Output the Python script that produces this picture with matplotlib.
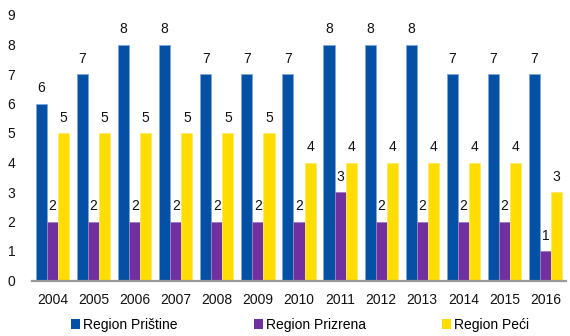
import matplotlib
matplotlib.use("Agg")
import matplotlib.pyplot as plt
from matplotlib.patches import Patch
import numpy as np

plt.rcParams['font.family'] = ['Liberation Sans', 'DejaVu Sans']

years = ['2004', '2005', '2006', '2007', '2008', '2009', '2010',
         '2011', '2012', '2013', '2014', '2015', '2016']
pristine = [6, 7, 8, 8, 7, 7, 7, 8, 8, 8, 7, 7, 7]
prizren = [2, 2, 2, 2, 2, 2, 2, 3, 2, 2, 2, 2, 1]
peci = [5, 5, 5, 5, 5, 5, 4, 4, 4, 4, 4, 4, 3]

series = [('Region Prištine', pristine, '#0450A4', '#7fa8d8'),
          ('Region Prizrena', prizren, '#7030A0', '#a07cc0'),
          ('Region Peći', peci, '#FFDD00', '#ffe866')]

fig = plt.figure(figsize=(5.7, 3.36), dpi=100)
ax = fig.add_axes([32 / 570, 55.5 / 336, 534 / 570, 265.5 / 336])

x = np.arange(len(years))
w = 0.27
for i, (name, vals, col, edge) in enumerate(series):
    pos = x + (i - 1) * w
    ax.bar(pos, vals, width=w, color=col, edgecolor=edge, linewidth=0.6)
    for px, v in zip(pos, vals):
        ax.annotate(str(v), (px, v), xytext=(0, 8), textcoords='offset points',
                    ha='center', va='baseline', fontsize=10, color='#111111')

ax.set_xlim(-0.5, 12.5)
ax.set_ylim(0, 9)
ax.set_yticks(range(10))
ax.set_xticks(x)
ax.set_xticklabels(years)
ax.tick_params(axis='both', length=0, labelsize=10, colors='#111111')
ax.tick_params(axis='y', pad=12)
ax.tick_params(axis='x', pad=9)
for s in ['top', 'right', 'left']:
    ax.spines[s].set_visible(False)
ax.spines['bottom'].set_color('#9a9a9a')
ax.spines['bottom'].set_linewidth(1.6)

handles = [Patch(facecolor=c, edgecolor='none') for _, _, c, _ in series]
fig.legend(handles, [s[0] for s in series], loc='center', ncol=3,
           bbox_to_anchor=(0.5 + 15 / 570, 11 / 336), frameon=False, fontsize=10,
           handlelength=0.65, handleheight=0.65, handletextpad=0.2,
           columnspacing=5.5, borderaxespad=0)

fig.savefig('out.png', dpi=100)
